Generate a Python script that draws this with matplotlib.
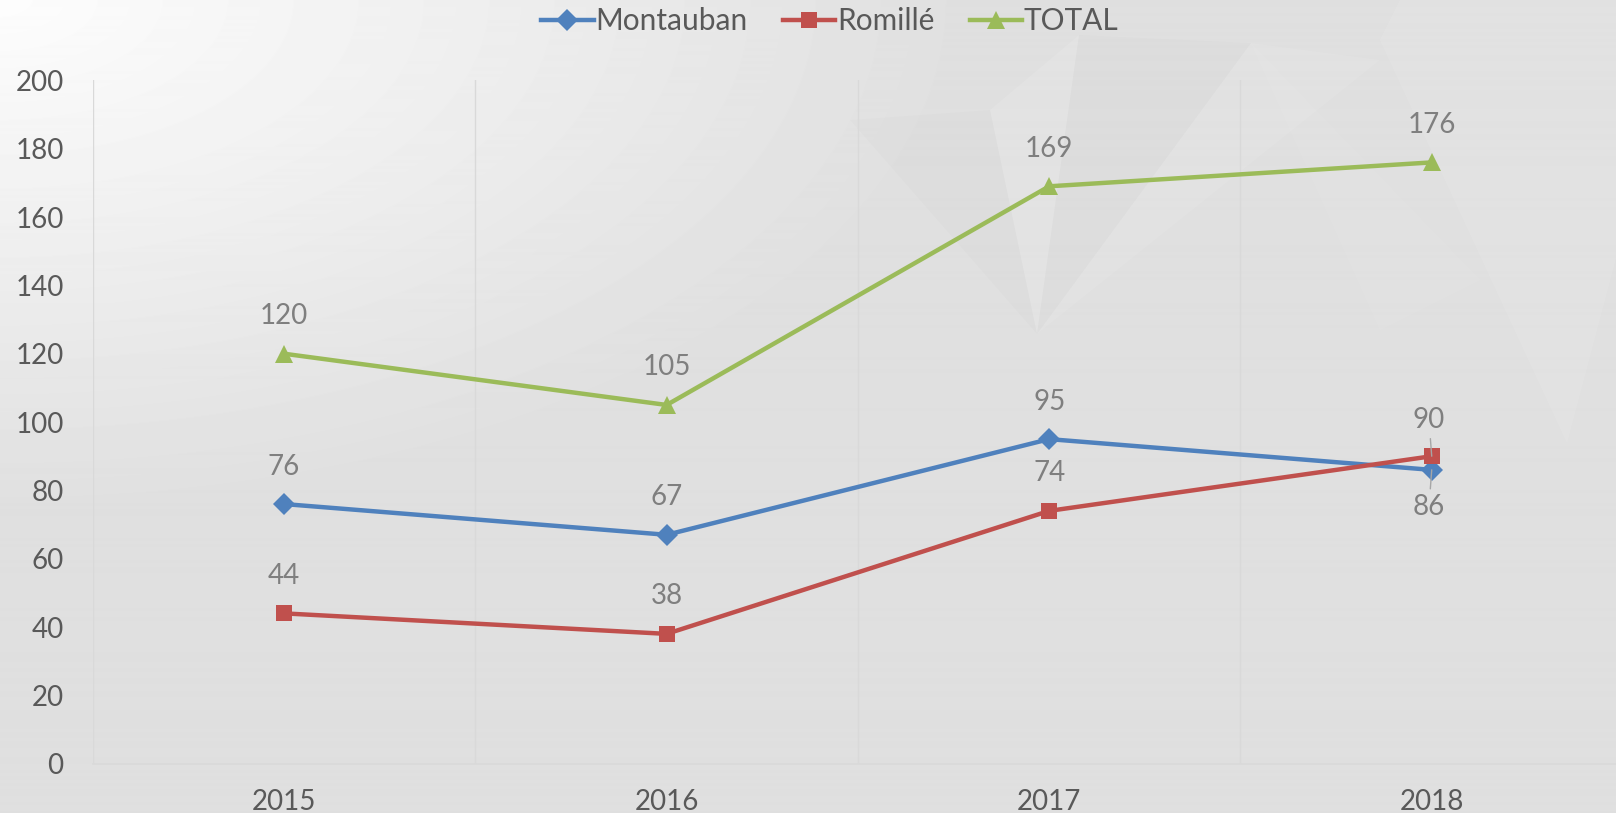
import numpy as np
import matplotlib
matplotlib.use("Agg")
import matplotlib.pyplot as plt
from matplotlib.patches import Polygon

plt.rcParams['font.family'] = ['Lato', 'DejaVu Sans']

# chart data
years = ["2015", "2016", "2017", "2018"]
montauban = [76, 67, 95, 86]
romille = [44, 38, 74, 90]
total = [120, 105, 169, 176]

W, H = 1616, 813
fig = plt.figure(figsize=(W / 100, H / 100), dpi=100)

# background: soft gray gradient with faint triangles
bg = fig.add_axes([0, 0, 1, 1], zorder=-10)
xx, yy = np.meshgrid(np.arange(W), np.arange(H))
r = np.clip(np.sqrt((xx / 950.0) ** 2 + (yy / 500.0) ** 2), 0, 1)
shade = (253 - 29 * r) / 255.0
bg.imshow(shade, cmap="gray", vmin=0, vmax=1, extent=(0, W, H, 0), aspect="auto")
tris = [
    ([(990, 110), (1037, 334), (1079, 35)], "white", 0.10),
    ([(1079, 35), (1037, 334), (1251, 43)], "black", 0.012),
    ([(1251, 43), (1037, 334), (1380, 60)], "white", 0.07),
    ([(1380, 40), (1567, 443), (1616, 258), (1616, 0), (1400, 0)], "white", 0.09),
    ([(1251, 43), (1380, 330), (1480, 280)], "white", 0.06),
    ([(850, 120), (1037, 334), (990, 110)], "black", 0.01),
]
for pts, c, a in tris:
    bg.add_patch(Polygon(pts, closed=True, facecolor=c, alpha=a, edgecolor="none"))
bg.set_xlim(0, W)
bg.set_ylim(H, 0)
bg.axis("off")

ax = fig.add_axes([92.8 / W, (H - 763.7) / H, (1623 - 92.8) / W, (763.7 - 80.4) / H])
ax.patch.set_alpha(0)

x = np.arange(len(years))
series = [
    ("Montauban", montauban, "#4F81BD", "D", 11),
    ("Romillé", romille, "#C0504D", "s", 12),
    ("TOTAL", total, "#9BBB59", "^", 13),
]
for name, vals, col, mk, ms in series:
    ax.plot(x, vals, color=col, lw=3.2, marker=mk, markersize=ms,
            markeredgewidth=0, label=name, zorder=3)

lab_col = "#7F7F7F"
fs = 20
for name, vals, col, mk, ms in series:
    for i, v in enumerate(vals):
        if name == "Montauban" and i == 3:
            ax.annotate(str(v), xy=(i, v), xytext=(-2, -27), textcoords="offset points",
                        ha="center", va="center", fontsize=fs, color=lab_col,
                        arrowprops=dict(arrowstyle="-", color="#A6A6A6", lw=1,
                                        shrinkA=2, shrinkB=0))
        elif name == "Romillé" and i == 3:
            ax.annotate(str(v), xy=(i, v), xytext=(-2, 26), textcoords="offset points",
                        ha="center", va="center", fontsize=fs, color=lab_col,
                        arrowprops=dict(arrowstyle="-", color="#A6A6A6", lw=1,
                                        shrinkA=2, shrinkB=0))
        else:
            ax.annotate(str(v), xy=(i, v), xytext=(0, 27), textcoords="offset points",
                        ha="center", va="center", fontsize=fs, color=lab_col)

ax.set_xlim(-0.5, len(years) - 0.5)
ax.set_ylim(0, 200)
ax.set_yticks(np.arange(0, 201, 20))
ax.set_xticks(x)
ax.set_xticklabels(years)
ax.tick_params(axis="both", length=0, labelsize=20, colors="#595959")
ax.tick_params(axis="y", pad=21)
ax.tick_params(axis="x", pad=18)

# vertical gridlines between categories
ax.set_xticks(np.arange(-0.5, len(years), 1), minor=True)
ax.tick_params(axis="x", which="minor", length=0)
ax.grid(True, axis="x", which="minor", color="#D9D9D9", lw=1)
ax.grid(False, axis="x", which="major")
for s in ["top", "right", "left"]:
    ax.spines[s].set_visible(False)
ax.spines["bottom"].set_color("#D9D9D9")
ax.spines["bottom"].set_linewidth(1.2)

leg = fig.legend(loc="center", bbox_to_anchor=(830 / W, 1 - 21 / H), ncol=3,
                 frameon=False, fontsize=21.5, handlelength=1.75, columnspacing=1.2,
                 handletextpad=0.05, labelcolor="#595959")

fig.savefig("out.png", dpi=100)
